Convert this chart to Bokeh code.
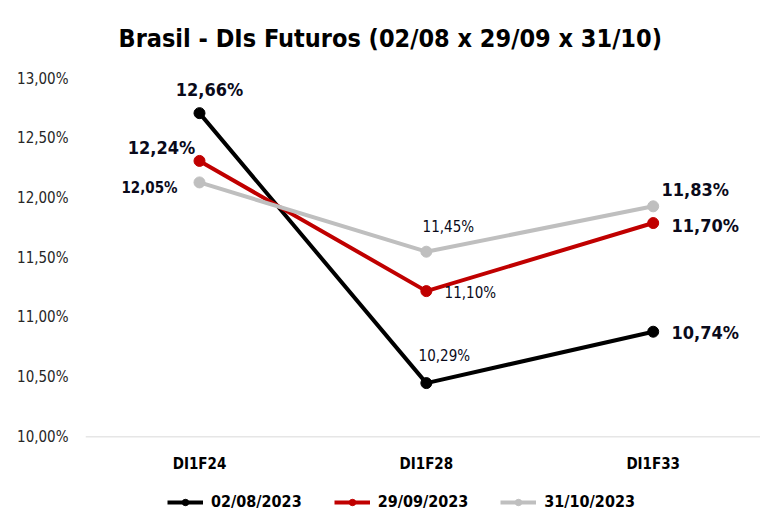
from bokeh.plotting import figure
from bokeh.models import ColumnDataSource, FixedTicker, Legend, LegendItem, Range1d, Span
from bokeh.core.properties import value
from bokeh.embed import file_html
from bokeh.resources import INLINE

# ---------------- data ----------------
categories = ["DI1F24", "DI1F28", "DI1F33"]
series_names = ["02/08/2023", "29/09/2023", "31/10/2023"]
# plotted positions (as drawn in the reference)
s_0208 = [12.71, 10.45, 10.88]
s_2909 = [12.31, 11.22, 11.79]
s_3110 = [12.13, 11.55, 11.93]
# data label texts (as printed in the reference)
lab_0208 = ["12,66%", "10,29%", "10,74%"]
lab_2909 = ["12,24%", "11,10%", "11,70%"]
lab_3110 = ["12,05%", "11,45%", "11,83%"]
y_ticks = [10.0, 10.5, 11.0, 11.5, 12.0, 12.5, 13.0]
y_tick_labels = ["10,00%", "10,50%", "11,00%", "11,50%", "12,00%", "12,50%", "13,00%"]
title_text = "Brasil - DIs Futuros (02/08 x 29/09 x 31/10)"

# ---------------- styles ----------------
FONT = "DejaVu Sans Condensed"
colors = ["#000000", "#c00000", "#bfbfbf"]
# label offsets in screen px (dx, dy downwards), sizes and weights per label
off_0208 = [(10, -24), (18, -27), (52, 1)]
off_2909 = [(-38, -13), (44, 2), (52, 2)]
off_3110 = [(-50, 6), (22, -25), (42, -17)]
size_0208 = ["18px", "15px", "18px"]
size_2909 = ["18px", "15px", "18px"]
size_3110 = ["15px", "15px", "18px"]
style_0208 = ["bold", "normal", "bold"]
style_2909 = ["bold", "normal", "bold"]
style_3110 = ["bold", "normal", "bold"]

xs = list(range(len(categories)))
y_base = y_ticks[0]

# frame spans down to the bottom of the picture so that category labels and
# legend can be drawn inside it; the category axis is drawn at y_base
p = figure(width=760, height=511, output_backend="svg", toolbar_location=None,
           x_axis_location=None,
           x_range=Range1d(-0.5025, 2.473), y_range=Range1d(9.375, 13.0),
           min_border_left=85, min_border_right=0, min_border_top=76,
           min_border_bottom=0)
p.background_fill_color = "white"
p.border_fill_color = "white"
p.outline_line_color = None
p.xgrid.visible = False
p.ygrid.visible = False

p.title.text = title_text
p.title.text_font = FONT
p.title.text_font_size = "25px"
p.title.text_font_style = "bold"
p.title.text_color = "#000000"
p.title.align = "left"
p.title.vertical_align = "top"
p.title.offset = 33
p.title.standoff = 47

# y axis
p.yaxis.ticker = FixedTicker(ticks=y_ticks)
p.yaxis.major_label_overrides = {t: l for t, l in zip(y_ticks, y_tick_labels)}
p.yaxis.axis_line_color = None
p.yaxis.major_tick_line_color = None
p.yaxis.minor_tick_line_color = None
p.yaxis.major_tick_out = 0
p.yaxis.major_tick_in = 0
p.yaxis.major_label_text_font = FONT
p.yaxis.major_label_text_font_size = "15px"
p.yaxis.major_label_text_color = "#262626"
p.yaxis.major_label_standoff = 17

# category axis line and labels
p.add_layout(Span(location=y_base, dimension="width", line_color="#d9d9d9",
                  line_width=1))
csrc = ColumnDataSource(dict(x=xs, y=[y_base] * len(xs), t=categories))
p.text("x", "y", text="t", source=csrc, y_offset=27,
       text_font=value(FONT), text_font_size="15px", text_font_style="bold",
       text_align="center", text_baseline="middle", text_color="#000000")

series = [s_0208, s_2909, s_3110]
labels = [lab_0208, lab_2909, lab_3110]
offsets = [off_0208, off_2909, off_3110]
sizes = [size_0208, size_2909, size_3110]
styles = [style_0208, style_2909, style_3110]

items = []
for name, vals, col in zip(series_names, series, colors):
    src = ColumnDataSource(dict(x=xs, y=vals))
    r1 = p.line("x", "y", source=src, line_color=col, line_width=4)
    r2 = p.scatter("x", "y", source=src, size=11, fill_color=col, line_color=col)
    items.append(LegendItem(label=name, renderers=[r1, r2]))

# data labels
lx, ly, lt, dx, dy, fs, fw = [], [], [], [], [], [], []
for vals, labs, offs, szs, sts in zip(series, labels, offsets, sizes, styles):
    for i in xs:
        lx.append(i)
        ly.append(vals[i])
        lt.append(labs[i])
        dx.append(offs[i][0])
        dy.append(offs[i][1])
        fs.append(szs[i])
        fw.append(sts[i])
lsrc = ColumnDataSource(dict(x=lx, y=ly, t=lt, dx=dx, dy=dy, fs=fs, fw=fw))
p.text("x", "y", text="t", source=lsrc, x_offset="dx", y_offset="dy",
       text_font=value(FONT), text_font_size="fs", text_font_style="fw",
       text_align="center", text_baseline="middle", text_color="#0a0a1a")

legend = Legend(items=items, orientation="horizontal", location=(82, 0),
                glyph_width=36, glyph_height=16, label_standoff=8, spacing=32,
                padding=0, margin=0, border_line_color=None,
                background_fill_alpha=0,
                label_text_font=FONT, label_text_font_size="16px",
                label_text_font_style="bold", label_text_color="#000000")
p.add_layout(legend, "center")

open("out.html", "w").write(file_html(p, INLINE))
